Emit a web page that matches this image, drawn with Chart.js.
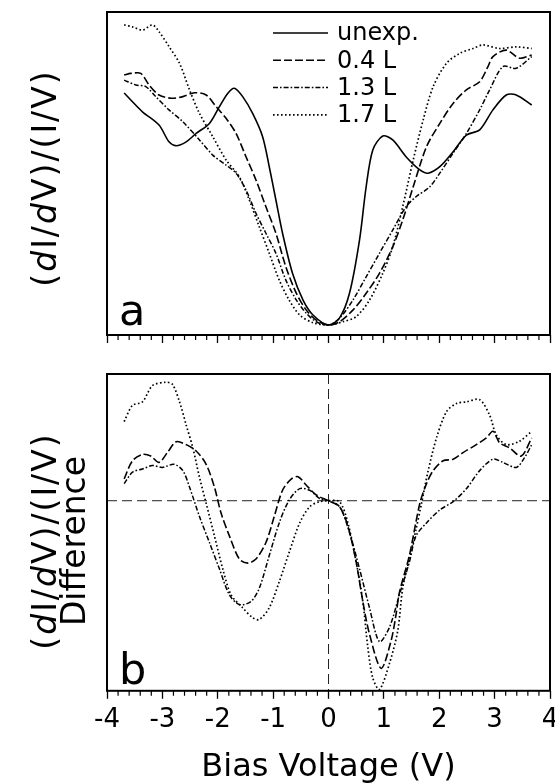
<!DOCTYPE html>
<html>
<head>
<meta charset="utf-8">
<script src="https://cdn.jsdelivr.net/npm/chart.js@4"></script>
<style>
html, body { margin: 0; padding: 0; background: #fff; overflow: hidden; width: 555px; height: 784px; }
canvas { position: absolute; left: 0; }
</style>
</head>
<body>
<canvas id="chartA" width="575" height="355" style="top:0"></canvas>
<canvas id="chartB" width="575" height="432" style="top:352px"></canvas>
<script>
Chart.defaults.font.family = "'DejaVu Sans', sans-serif";
Chart.defaults.color = '#000';

// x axis tick labels (bias voltage, V)
const xTicks = [-4, -3, -2, -1, 0, 1, 2, 3, 4];

// panel a : normalised conductance (arb. units)
const aUnexpV = [-3.69,-3.54,-3.36,-3.06,-2.88,-2.75,-2.57,-2.39,-2.15,-1.97,-1.82,-1.70,-1.55,-1.37,-1.19,-1.07,-0.95,-0.83,-0.65,-0.46,-0.28,0,0.20,0.38,0.56,0.68,0.80,0.98,1.16,1.40,1.65,1.80,2.01,2.25,2.49,2.73,2.97,3.21,3.39,3.67];
const aUnexpY = [74.9,72.2,69.1,65.0,59.8,58.6,59.8,62.4,65.5,70.7,74.8,76.4,73.8,68.6,61.4,52.1,41.8,31.5,19.1,10.8,6.2,3.1,5.3,13.0,29.4,45.9,57.3,61.6,60.4,55.2,51.1,50.1,52.1,56.7,61.9,63.5,69.7,74.3,74.3,71.2];

const aL04V = [-3.69,-3.57,-3.39,-3.24,-3.06,-2.84,-2.63,-2.42,-2.21,-2.03,-1.85,-1.67,-1.49,-1.31,-1.13,-0.95,-0.77,-0.58,-0.40,-0.22,0,0.20,0.44,0.68,0.92,1.16,1.34,1.53,1.77,2.01,2.25,2.49,2.73,2.88,2.97,3.21,3.45,3.67];
const aL04Y = [80.5,81.0,81.0,77.4,74.3,73.3,73.8,75.0,74.3,70.7,67.1,62.4,55.2,48.0,39.7,31.5,21.1,12.9,7.7,4.6,3.1,4.1,7.7,12.9,19.1,27.3,35.6,45.9,58.3,65.5,71.7,75.9,78.4,83.1,86.2,88.2,85.7,86.7];

const aL13V = [-3.69,-3.48,-3.30,-3.12,-2.88,-2.63,-2.33,-2.09,-1.85,-1.67,-1.49,-1.31,-1.13,-0.95,-0.77,-0.58,-0.40,-0.22,0,0.20,0.44,0.68,0.92,1.16,1.40,1.58,1.83,2.01,2.25,2.49,2.73,2.91,3.15,3.39,3.67];
const aL13Y = [78.9,77.4,76.9,73.8,69.7,66.0,60.4,55.7,52.6,50.1,44.9,37.7,31.5,25.3,17.0,10.8,6.7,4.1,3.1,5.2,10.8,18.0,25.3,32.5,39.7,42.8,45.9,50.1,56.3,62.4,69.7,75.9,83.1,82.6,86.2];

const aL17V = [-3.69,-3.54,-3.36,-3.18,-3.06,-2.88,-2.69,-2.51,-2.33,-2.09,-1.85,-1.61,-1.43,-1.25,-1.07,-0.89,-0.71,-0.52,-0.28,0,0.26,0.50,0.74,0.98,1.16,1.34,1.53,1.71,1.89,2.13,2.37,2.61,2.79,3.09,3.39,3.67];
const aL17Y = [96.0,95.4,94.4,96.0,93.9,89.3,84.1,75.9,68.6,61.4,54.2,49.0,41.8,33.5,25.3,17.0,10.8,6.2,3.8,3.1,4.1,5.7,10.8,19.1,27.3,39.7,54.2,66.6,76.9,84.1,87.2,88.7,89.8,88.7,89.2,88.7];

// panel b : difference to unexposed surface
const bL04V = [-3.69,-3.54,-3.36,-3.21,-3.06,-2.91,-2.75,-2.57,-2.39,-2.21,-2.06,-1.94,-1.79,-1.61,-1.46,-1.31,-1.13,-0.98,-0.83,-0.67,-0.55,-0.40,-0.22,0,0.20,0.35,0.50,0.62,0.74,0.95,1.13,1.22,1.28,1.46,1.65,1.77,1.89,2.07,2.25,2.43,2.67,2.85,2.97,3.09,3.27,3.48,3.67];
const bL04Y = [6.9,12.6,14.6,14.1,12.1,15.2,18.6,17.7,15.7,11.5,4.3,-3.9,-11.1,-18.4,-19.7,-18.4,-13.2,-5.0,3.3,6.9,7.6,4.9,1.8,0,-1.9,-8.0,-19.4,-31.8,-42.1,-52.9,-44.2,-35.9,-29.0,-17.3,-0.8,5.4,9.5,12.6,13.1,15.2,17.7,19.8,21.9,18.3,16.7,14.1,19.8];

const bL13V = [-3.69,-3.54,-3.36,-3.18,-3.00,-2.79,-2.63,-2.51,-2.33,-2.15,-1.97,-1.79,-1.61,-1.40,-1.25,-1.07,-0.89,-0.71,-0.52,-0.34,-0.16,0,0.20,0.38,0.56,0.74,0.92,1.10,1.28,1.46,1.58,1.77,2.01,2.25,2.49,2.73,2.97,3.15,3.39,3.54,3.67];
const bL13Y = [5.4,9.0,10.0,11.1,10.5,11.5,9.5,4.3,-5.0,-13.2,-21.5,-29.7,-32.8,-31.8,-27.6,-17.3,-7.0,0.2,3.8,3.3,0.7,0,-1.9,-10.1,-21.5,-33.8,-44.5,-40.0,-29.7,-19.4,-11.1,-7.0,-2.9,-0.3,3.8,9.5,13.1,12.1,10.5,13.6,17.7];

const bL17V = [-3.69,-3.54,-3.36,-3.18,-2.94,-2.82,-2.69,-2.57,-2.45,-2.33,-2.21,-2.06,-1.91,-1.76,-1.55,-1.37,-1.25,-1.07,-0.89,-0.71,-0.52,-0.34,-0.16,0,0.20,0.35,0.50,0.62,0.71,0.80,0.92,1.10,1.25,1.34,1.46,1.58,1.68,1.80,1.95,2.13,2.31,2.49,2.73,2.91,3.03,3.21,3.45,3.67];
const bL17Y = [25.0,30.1,31.2,36.3,37.4,36.8,31.2,23.9,16.7,7.4,-0.8,-11.1,-21.5,-29.7,-33.8,-36.9,-37.5,-33.8,-25.6,-16.3,-7.0,-1.9,-0.3,0,-0.3,-7.0,-19.4,-31.8,-46.2,-56.0,-59.6,-51.4,-41.1,-27.6,-18.4,-9.1,-0.8,9.5,19.8,28.1,30.7,31.2,31.9,27.0,20.8,17.7,18.8,21.9];

// line styles per exposure
const lineStyle = {
  'unexp.': { borderDash: [], borderWidth: 1.6 },
  '0.4 L': { borderDash: [8, 3], borderWidth: 1.6 },
  '1.3 L': { borderDash: [5, 2, 1.6, 2], borderWidth: 1.5 },
  '1.7 L': { borderDash: [1.6, 2.4], borderWidth: 1.7 }
};

function series(label, xs, ys) {
  return Object.assign({
    label: label,
    data: xs.map((x, i) => ({ x: x, y: ys[i] })),
    borderColor: '#000',
    backgroundColor: '#000',
    pointRadius: 0,
    fill: false,
    tension: 0.3,
    borderCapStyle: 'butt'
  }, lineStyle[label]);
}

const yTitle = [['(', false], ['d', true], ['I/', false], ['d', true], ['V)/(I/V)', false]];

function drawRotated(ctx, parts, bx, cy, size, spacing) {
  ctx.save();
  ctx.translate(bx, cy);
  ctx.rotate(-Math.PI / 2);
  ctx.letterSpacing = spacing + 'px';
  ctx.textBaseline = 'alphabetic';
  ctx.textAlign = 'left';
  ctx.fillStyle = '#000';
  const fonts = parts.map(p => (p[1] ? 'italic ' : '') + size + "px 'DejaVu Sans'");
  let w = 0;
  parts.forEach((p, i) => { ctx.font = fonts[i]; w += ctx.measureText(p[0]).width; });
  let x = -w / 2;
  parts.forEach((p, i) => {
    ctx.font = fonts[i];
    ctx.fillText(p[0], x, 0);
    x += ctx.measureText(p[0]).width;
  });
  ctx.restore();
}

const framePlugin = {
  id: 'frame',
  beforeDatasetsDraw(chart, args, opts) {
    if (!opts.zeroLines) return;
    const { ctx, chartArea: a, scales } = chart;
    const x0 = scales.x.getPixelForValue(0);
    const y0 = scales.y.getPixelForValue(0);
    ctx.save();
    ctx.strokeStyle = '#222';
    ctx.lineWidth = 1;
    ctx.setLineDash([10, 5]);
    ctx.beginPath();
    ctx.moveTo(x0, a.top); ctx.lineTo(x0, a.bottom);
    ctx.moveTo(a.left, y0); ctx.lineTo(a.right, y0);
    ctx.stroke();
    ctx.restore();
  },
  afterDraw(chart, args, opts) {
    const { ctx, chartArea: a, scales } = chart;
    ctx.save();
    ctx.strokeStyle = '#000';
    ctx.fillStyle = '#000';

    // minor ticks every 0.2 V
    ctx.lineWidth = 1.2;
    ctx.beginPath();
    for (let i = -20; i <= 20; i++) {
      if (i % 5 === 0) continue;
      const px = scales.x.getPixelForValue(i / 5);
      ctx.moveTo(px, a.bottom); ctx.lineTo(px, a.bottom + 5);
    }
    ctx.stroke();

    // panel box
    ctx.lineWidth = 2;
    ctx.strokeRect(a.left, a.top, a.right - a.left, a.bottom - a.top);

    // panel letter
    ctx.font = "43px 'DejaVu Sans'";
    ctx.textAlign = 'left';
    ctx.textBaseline = 'alphabetic';
    ctx.fillText(opts.letter, a.left + 12, a.bottom - opts.letterLift);

    // y titles
    drawRotated(ctx, yTitle, 56, a.top + opts.titleOffset, 33, 2);
    if (opts.second) {
      drawRotated(ctx, [[opts.second, false]], 85, a.top + opts.titleOffset, 33, 0);
    }

    // legend
    if (opts.legend) {
      const lx = a.left + 166, ly = a.top + 21, step = 27.3, len = 55;
      chart.data.datasets.forEach((d, i) => {
        const y = ly + i * step;
        ctx.setLineDash(d.borderDash || []);
        ctx.lineWidth = d.borderWidth;
        ctx.beginPath();
        ctx.moveTo(lx, y); ctx.lineTo(lx + len, y);
        ctx.stroke();
        ctx.setLineDash([]);
        ctx.font = "24px 'DejaVu Sans'";
        ctx.textBaseline = 'middle';
        ctx.fillText(d.label, lx + len + 9, y + 1);
      });
    }
    ctx.restore();
  }
};

function options(yMin, yMax, pad, labels, frame) {
  return {
    responsive: false,
    animation: false,
    layout: { padding: pad },
    scales: {
      x: {
        type: 'linear',
        min: -4, max: 4,
        afterBuildTicks: ax => { ax.ticks = xTicks.map(v => ({ value: v })); },
        grid: { drawOnChartArea: false, drawTicks: true, tickLength: 8, tickColor: '#000', tickWidth: 1.3 },
        border: { display: false },
        ticks: { display: labels, padding: 6, font: { size: 26 }, color: '#000', autoSkip: false, maxRotation: 0 },
        title: labels
          ? { display: true, text: 'Bias Voltage (V)', font: { size: 32, lineHeight: 1.0 }, padding: { top: 10, bottom: 0 }, color: '#000' }
          : { display: false }
      },
      y: { display: false, min: yMin, max: yMax }
    },
    plugins: {
      legend: { display: false },
      tooltip: { enabled: false },
      frame: frame
    }
  };
}

new Chart(document.getElementById('chartA'), {
  type: 'line',
  data: {
    datasets: [
      series('unexp.', aUnexpV, aUnexpY),
      series('0.4 L', aL04V, aL04Y),
      series('1.3 L', aL13V, aL13Y),
      series('1.7 L', aL17V, aL17Y)
    ]
  },
  options: options(0, 100, { left: 107, right: 25, top: 12, bottom: 12 }, false,
    { letter: 'a', letterLift: 10, titleOffset: 166, legend: true }),
  plugins: [framePlugin]
});

new Chart(document.getElementById('chartB'), {
  type: 'line',
  data: {
    datasets: [
      series('0.4 L', bL04V, bL04Y),
      series('1.3 L', bL13V, bL13Y),
      series('1.7 L', bL17V, bL17Y)
    ]
  },
  options: options(-60, 40, { left: 107, right: 25, top: 22, bottom: 0 }, true,
    { letter: 'b', letterLift: 7, titleOffset: 167, second: 'Difference', zeroLines: true }),
  plugins: [framePlugin]
});
</script>
</body>
</html>
